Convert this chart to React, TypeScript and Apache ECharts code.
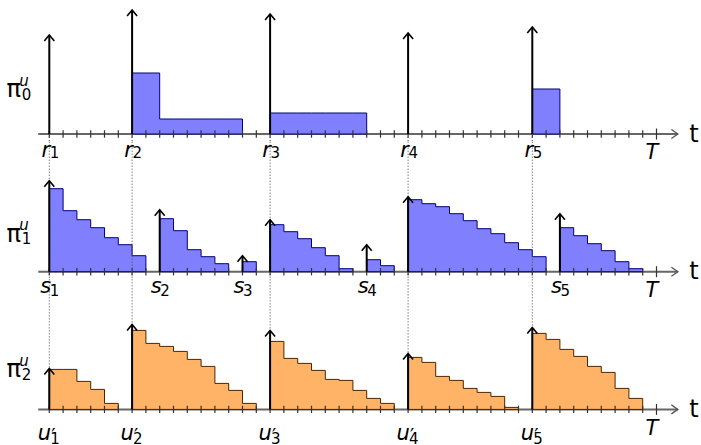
import React, { useEffect, useRef } from 'react';
import * as echarts from 'echarts';

// ---------- data ----------
const tickTimes = [0, 1, 2, 3, 4, 5, 6, 7, 8, 9, 10, 11, 12, 13, 14, 15, 16, 17, 18, 19, 20, 21, 22, 23, 24, 25, 26, 27, 28, 29, 30, 31, 32, 33, 34, 35, 36, 37, 38, 39, 40, 41, 42, 43, 44];
const horizonT = 44;

// panel 0 : pi_0^u
const rTimes = [0, 6, 16, 26, 35];
const rSubs = ['1', '2', '3', '4', '5'];
const rArrowHeights = [99, 124, 120, 101, 107];
const pi0BlockStarts = [6, 16, 35];
const pi0BlockSteps = [
  [61, 61, 15, 15, 15, 15, 15, 15],
  [21, 21, 21, 21, 21, 21, 21],
  [45, 45],
];

// panel 1 : pi_1^u
const sArrowTimes = [0, 8, 14, 16, 23, 26, 37];
const sArrowHeights = [91, 62, 16, 52, 27, 75, 58];
const pi1BlockSteps = [
  [83, 61, 52, 44, 34, 27, 16],
  [53, 41, 22, 15, 8],
  [10],
  [47, 40, 33, 24, 16, 3],
  [12, 6],
  [72, 68, 65, 58, 51, 43, 38, 29, 22, 15],
  [44, 36, 28, 21, 10, 3],
];
const sLabelTimes = [0, 8, 14, 23, 37];
const sSubs = ['1', '2', '3', '4', '5'];

// panel 2 : pi_2^u
const uTimes = [0, 6, 16, 26, 35];
const uSubs = ['1', '2', '3', '4', '5'];
const uArrowHeights = [41, 85, 79, 56, 82];
const pi2BlockSteps = [
  [40, 40, 28, 20, 6],
  [79, 66, 63, 58, 50, 43, 26, 19, 6],
  [68, 51, 46, 39, 30, 29, 19, 11, 6],
  [52, 47, 33, 29, 21, 17, 13, 2],
  [76, 70, 60, 53, 43, 37, 21, 11],
];

const dottedTimes = [0, 6, 16, 26, 35];

// ---------- layout / style ----------
const X_MIN = -1;
const X_MAX = 46;
const Y_MIN = -7.7;
const Y_MAX = 130;
const GRID_H = 137.7;
const GRID_TOP0 = 4;
const AXIS_START = -0.8;
const AXIS_END = 45.55;
const FONT = '"DejaVu Sans"';

const BLUE_FILL = '#8080ff';
const BLUE_STROKE = '#00007a';
const ORANGE_FILL = '#ffb366';
const ORANGE_STROKE = '#4a2600';

const txt = (x: number, y: number, text: string, size: number, italic: boolean, align = 'center') => ({
  type: 'text',
  x,
  y,
  style: {
    text,
    font: `${italic ? 'italic ' : ''}${size}px ${FONT}`,
    fill: '#000',
    align,
    verticalAlign: 'middle',
  },
});

function makePanelSeries(p: number, cfg: any) {
  const series: any[] = [];
  const common = { type: 'custom', xAxisIndex: p, yAxisIndex: p, clip: false, silent: true };

  // axis line + arrow
  series.push({
    ...common,
    z: 1,
    data: [[0, 0]],
    renderItem: (params: any, api: any) => {
      const a = api.coord([AXIS_START, 0]);
      const b = api.coord([AXIS_END, 0]);
      return {
        type: 'group',
        children: [
          { type: 'line', shape: { x1: a[0], y1: a[1], x2: b[0], y2: b[1] }, style: { stroke: '#666', lineWidth: 2 } },
          {
            type: 'polyline',
            shape: { points: [[b[0] - 6.5, b[1] - 4.5], [b[0], b[1]], [b[0] - 6.5, b[1] + 4.5]] },
            style: { stroke: '#555', lineWidth: 1.3, fill: 'none' },
          },
        ],
      };
    },
  });

  // bars
  series.push({
    ...common,
    z: 2,
    data: cfg.blockStarts.map((s: number, i: number) => [s, i]),
    renderItem: (params: any, api: any) => {
      const i = params.dataIndex;
      const start = cfg.blockStarts[i];
      const steps: number[] = cfg.blockSteps[i];
      const pts: number[][] = [api.coord([start, 0])];
      steps.forEach((h, k) => {
        pts.push(api.coord([start + k, h]));
        pts.push(api.coord([start + k + 1, h]));
      });
      pts.push(api.coord([start + steps.length, 0]));
      return {
        type: 'polygon',
        shape: { points: pts },
        style: { fill: cfg.fill, stroke: cfg.stroke, lineWidth: 1 },
      };
    },
  });

  // ticks
  series.push({
    ...common,
    z: 3,
    data: tickTimes.map((t) => [t, 0]),
    renderItem: (params: any, api: any) => {
      const t = tickTimes[params.dataIndex];
      const c = api.coord([t, 0]);
      const len = t === horizonT ? 5.5 : 3.7;
      return {
        type: 'line',
        shape: { x1: c[0], y1: c[1] - len, x2: c[0], y2: c[1] + len },
        style: { stroke: '#333', lineWidth: 1.2 },
      };
    },
  });

  // dotted guide lines
  series.push({
    ...common,
    z: 4,
    data: dottedTimes.map((t) => [t, 0]),
    renderItem: (params: any, api: any) => {
      const i = params.dataIndex;
      const t = dottedTimes[i];
      let yTop = Y_MAX;
      let yBot = Y_MIN;
      if (p === 0) yTop = 0;
      if (p === 2) yBot = uArrowHeights[i];
      const a = api.coord([t, yTop]);
      const b = api.coord([t, yBot]);
      return {
        type: 'line',
        shape: { x1: a[0], y1: a[1], x2: b[0], y2: b[1] },
        style: { stroke: '#444', lineWidth: 1, lineDash: [1, 2] },
      };
    },
  });

  // impulse arrows
  series.push({
    ...common,
    z: 5,
    data: cfg.arrowTimes.map((t: number, i: number) => [t, cfg.arrowHeights[i]]),
    renderItem: (params: any, api: any) => {
      const i = params.dataIndex;
      const a = api.coord([cfg.arrowTimes[i], 0]);
      const b = api.coord([cfg.arrowTimes[i], cfg.arrowHeights[i]]);
      return {
        type: 'group',
        children: [
          { type: 'line', shape: { x1: a[0], y1: a[1], x2: b[0], y2: b[1] + 0.5 }, style: { stroke: '#000', lineWidth: 2 } },
          {
            type: 'polyline',
            shape: { points: [[b[0] - 5, b[1] + 6], [b[0], b[1]], [b[0] + 5, b[1] + 6]] },
            style: { stroke: '#000', lineWidth: 1.6, fill: 'none' },
          },
        ],
      };
    },
  });

  // time labels
  series.push({
    ...common,
    z: 6,
    data: cfg.labelTimes.map((t: number) => [t, 0]),
    renderItem: (params: any, api: any) => {
      const i = params.dataIndex;
      const c = api.coord([cfg.labelTimes[i], 0]);
      const o = cfg.labelOffsets;
      const children: any[] = [
        txt(c[0] + o.mainDx, c[1] + o.mainDy, cfg.labelLetter, 21, true),
        txt(c[0] + o.subDx, c[1] + o.subDy, cfg.labelSubs[i], 15, false, 'left'),
      ];
      if (cfg.prime) children.push(txt(c[0] + o.primeDx, c[1] + o.primeDy, '′', 19, false, 'left'));
      return { type: 'group', children };
    },
  });

  // panel labels: pi, T, t
  series.push({
    ...common,
    z: 6,
    data: [[0, 0]],
    renderItem: (params: any, api: any) => {
      const o = api.coord([0, 0]);
      const tT = api.coord([horizonT, 0]);
      const tip = api.coord([AXIS_END, 0]);
      const px = o[0] - 35.5;
      const py = o[1] + cfg.piDy;
      return {
        type: 'group',
        children: [
          txt(px, py, 'π', 24, false),
          txt(px + 5.5, py - 8.5, 'u', 15, true, 'left'),
          txt(px + 8, py + 5.5, cfg.piSub, 15, false, 'left'),
          txt(tT[0] - 4.5, tT[1] + cfg.TDy, 'T', 21, true),
          txt(tip[0] + 16, tip[1] - 0.5, 't', 24, false),
        ],
      };
    },
  });

  return series;
}

const panels = [
  {
    blockStarts: pi0BlockStarts,
    blockSteps: pi0BlockSteps,
    arrowTimes: rTimes,
    arrowHeights: rArrowHeights,
    labelTimes: rTimes,
    labelSubs: rSubs,
    labelLetter: 'r',
    prime: false,
    labelOffsets: { mainDx: -3.5, mainDy: 15.5, subDx: 0.5, subDy: 18.5 },
    fill: BLUE_FILL,
    stroke: BLUE_STROKE,
    piSub: '0',
    piDy: -45,
    TDy: 17.5,
  },
  {
    blockStarts: sArrowTimes,
    blockSteps: pi1BlockSteps,
    arrowTimes: sArrowTimes,
    arrowHeights: sArrowHeights,
    labelTimes: sLabelTimes,
    labelSubs: sSubs,
    labelLetter: 's',
    prime: false,
    labelOffsets: { mainDx: -3.5, mainDy: 14, subDx: 0.5, subDy: 19 },
    fill: BLUE_FILL,
    stroke: BLUE_STROKE,
    piSub: '1',
    piDy: -38,
    TDy: 18,
  },
  {
    blockStarts: uTimes,
    blockSteps: pi2BlockSteps,
    arrowTimes: uTimes,
    arrowHeights: uArrowHeights,
    labelTimes: uTimes,
    labelSubs: uSubs,
    labelLetter: 'u',
    prime: true,
    labelOffsets: { mainDx: -5, mainDy: 24, subDx: 1, subDy: 29.5, primeDx: 2, primeDy: 26 },
    fill: ORANGE_FILL,
    stroke: ORANGE_STROKE,
    piSub: '2',
    piDy: -40,
    TDy: 18.5,
  },
];

export default function App() {
  const ref = useRef<HTMLDivElement>(null);
  useEffect(() => {
    if (!ref.current) return;
    const chart = echarts.init(ref.current, undefined, { renderer: 'svg' });
    const grids = panels.map((_, p) => ({
      left: 35.5,
      right: 16.9,
      top: GRID_TOP0 + p * GRID_H,
      height: GRID_H,
      containLabel: false,
    }));
    const xAxes = panels.map((_, p) => ({
      type: 'value',
      gridIndex: p,
      min: X_MIN,
      max: X_MAX,
      show: false,
    }));
    const yAxes = panels.map((_, p) => ({
      type: 'value',
      gridIndex: p,
      min: Y_MIN,
      max: Y_MAX,
      show: false,
    }));
    const series: any[] = [];
    panels.forEach((cfg, p) => series.push(...makePanelSeries(p, cfg)));
    chart.setOption({
      animation: false,
      backgroundColor: '#fff',
      grid: grids,
      xAxis: xAxes,
      yAxis: yAxes,
      series,
    });
    return () => chart.dispose();
  }, []);
  return <div ref={ref} style={{ position: 'fixed', left: 0, top: 0, width: 701, height: 445 }} />;
}
